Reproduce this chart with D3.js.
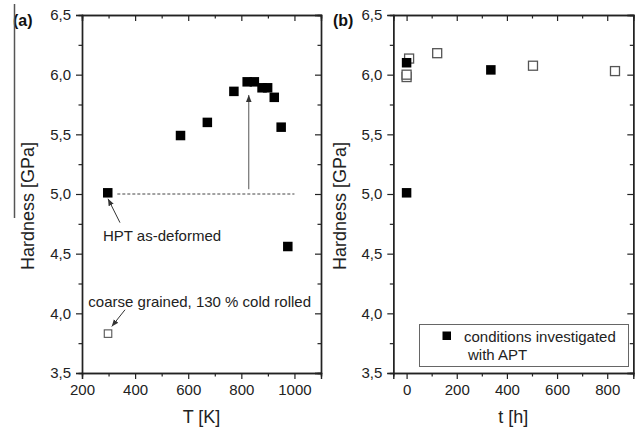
<!DOCTYPE html>
<html><head><meta charset="utf-8">
<script src="https://cdn.jsdelivr.net/npm/d3@7"></script>
<style>
body{margin:0;background:#fff;}
svg{display:block;font-family:"Liberation Sans",Arial,sans-serif;}
</style></head>
<body>
<svg id="chart" width="638" height="432"></svg>
<script>
// ---- data ----
const tempA = [297, 571, 672, 772, 822, 849, 878, 899, 924, 950, 975];
const hardA = [5.01, 5.49, 5.60, 5.86, 5.94, 5.94, 5.89, 5.89, 5.81, 5.56, 4.56];
const tempAOpen = [298];
const hardAOpen = [3.83];
const timeBFilled = [0, 0, 336];
const hardBFilled = [5.01, 6.10, 6.04];
const timeBOpen = [0, 0, 10, 122, 504, 831];
const hardBOpen = [5.98, 6.00, 6.135, 6.18, 6.075, 6.03];
const yTicks = [3.5, 4.0, 4.5, 5.0, 5.5, 6.0, 6.5];
const xTicksA = [200, 400, 600, 800, 1000];
const xTicksB = [0, 200, 400, 600, 800];

const svg = d3.select("#chart");
const fmt = d => d3.format(".1f")(d).replace(".", ",");
const axisCol = "#222";

const xA = d3.scaleLinear().domain([200, 1100]).range([82, 321]);
const yS = d3.scaleLinear().domain([3.5, 6.5]).range([373, 15]);
const xB = d3.scaleLinear().domain([-53, 904]).range([393.3, 633.3]);

const yMinor = d3.range(3.75, 6.5, 0.5);

function frame(x, xTicks, xMinor, label, panelLabel, plx, ylabX) {
  const [x0, x1] = x.range();
  const [y0, y1] = yS.range();
  const g = svg.append("g");
  // bottom axis
  const bottom = g.append("g").attr("transform", `translate(0,${y0})`)
    .call(d3.axisBottom(x).tickValues(xTicks).tickSize(6).tickPadding(5).tickFormat(d3.format("d")));
  g.append("g").attr("transform", `translate(0,${y0})`)
    .call(d3.axisBottom(x).tickValues(xMinor).tickSize(3.5).tickFormat(""));
  // top axis (inward)
  g.append("g").attr("transform", `translate(0,${y1})`)
    .call(d3.axisBottom(x).tickValues(xTicks).tickSize(6).tickFormat(""));
  g.append("g").attr("transform", `translate(0,${y1})`)
    .call(d3.axisBottom(x).tickValues(xMinor).tickSize(3.5).tickFormat(""));
  // left axis
  g.append("g").attr("transform", `translate(${x0},0)`)
    .call(d3.axisLeft(yS).tickValues(yTicks).tickSize(6).tickPadding(5).tickFormat(fmt));
  g.append("g").attr("transform", `translate(${x0},0)`)
    .call(d3.axisLeft(yS).tickValues(yMinor).tickSize(3.5).tickFormat(""));
  // right axis (inward)
  g.append("g").attr("transform", `translate(${x1},0)`)
    .call(d3.axisLeft(yS).tickValues(yTicks).tickSize(6).tickFormat(""));
  g.append("g").attr("transform", `translate(${x1},0)`)
    .call(d3.axisLeft(yS).tickValues(yMinor).tickSize(3.5).tickFormat(""));
  g.selectAll(".domain").attr("stroke", axisCol).attr("stroke-width", 1.4);
  g.selectAll(".tick line").attr("stroke", axisCol).attr("stroke-width", 1.2);
  g.selectAll(".tick text").attr("font-size", 15).attr("fill", "#222")
    .attr("font-family", "'Liberation Sans',Arial,sans-serif");
  // axis titles
  g.append("text").attr("x", (x0 + x1) / 2).attr("y", 423).attr("text-anchor", "middle")
    .attr("font-size", 18).attr("fill", "#222").text(label);
  g.append("text").attr("transform", `translate(${ylabX},206) rotate(-90)`)
    .attr("text-anchor", "middle").attr("font-size", 18).attr("fill", "#222").text("Hardness [GPa]");
  g.append("text").attr("x", plx).attr("y", 26).attr("font-size", 16).attr("font-weight", "bold")
    .attr("fill", "#111").text(panelLabel);
}

frame(xA, xTicksA, [300, 500, 700, 900, 1100], "T [K]", "(a)", 13, 34);
frame(xB, xTicksB, [100, 300, 500, 700], "t [h]", "(b)", 333, 346);

// artifact vertical line at far left
svg.append("line").attr("x1", 14.5).attr("x2", 14.5).attr("y1", 4).attr("y2", 218)
  .attr("stroke", "#555").attr("stroke-width", 1.5);

// defs arrowhead
svg.append("defs").append("marker").attr("id", "ah").attr("viewBox", "0 0 10 10")
  .attr("refX", 10).attr("refY", 5).attr("markerWidth", 7).attr("markerHeight", 7)
  .attr("markerUnits", "userSpaceOnUse").attr("orient", "auto")
  .append("path").attr("d", "M0,1 L10,5 L0,9 Z").attr("fill", "#333");

// panel a annotations
svg.append("line").attr("x1", xA(333)).attr("x2", xA(1000)).attr("y1", yS(5.0)).attr("y2", yS(5.0))
  .attr("stroke", "#444").attr("stroke-width", 1).attr("stroke-dasharray", "3,2");
svg.append("line").attr("x1", xA(828)).attr("x2", xA(828)).attr("y1", yS(5.04)).attr("y2", yS(5.83))
  .attr("stroke", "#555").attr("stroke-width", 1).attr("marker-end", "url(#ah)");
svg.append("line").attr("x1", xA(343)).attr("y1", yS(4.76)).attr("x2", xA(298)).attr("y2", yS(4.96))
  .attr("stroke", "#333").attr("stroke-width", 1).attr("marker-end", "url(#ah)");
svg.append("line").attr("x1", xA(362)).attr("y1", yS(4.03)).attr("x2", xA(312)).attr("y2", yS(3.89))
  .attr("stroke", "#333").attr("stroke-width", 1).attr("marker-end", "url(#ah)");
svg.append("text").attr("x", xA(279)).attr("y", yS(4.608)).attr("font-size", 15).attr("fill", "#222")
  .text("HPT as-deformed");
svg.append("text").attr("x", xA(224)).attr("y", yS(4.055)).attr("font-size", 15).attr("fill", "#222")
  .text("coarse grained, 130 % cold rolled");

// panel a markers
const sA = 9.5;
svg.append("g").selectAll("rect").data(tempA.map((t, i) => [t, hardA[i]])).join("rect")
  .attr("x", d => xA(d[0]) - sA / 2).attr("y", d => yS(d[1]) - sA / 2)
  .attr("width", sA).attr("height", sA).attr("fill", "#000");
const sAo = 7.5;
svg.append("g").selectAll("rect").data(tempAOpen.map((t, i) => [t, hardAOpen[i]])).join("rect")
  .attr("x", d => xA(d[0]) - sAo / 2).attr("y", d => yS(d[1]) - sAo / 2)
  .attr("width", sAo).attr("height", sAo).attr("fill", "#fff").attr("stroke", "#555").attr("stroke-width", 1.1);

// panel b markers
const sBo = 9;
svg.append("g").selectAll("rect").data(timeBOpen.map((t, i) => [t, hardBOpen[i]])).join("rect")
  .attr("x", d => xB(d[0]) - sBo / 2).attr("y", d => yS(d[1]) - sBo / 2)
  .attr("width", sBo).attr("height", sBo).attr("fill", "#fff").attr("stroke", "#555").attr("stroke-width", 1.3);
const sB = 9.5;
svg.append("g").selectAll("rect").data(timeBFilled.map((t, i) => [t, hardBFilled[i]])).join("rect")
  .attr("x", d => xB(d[0]) - sB / 2).attr("y", d => yS(d[1]) - sB / 2)
  .attr("width", sB).attr("height", sB).attr("fill", "#000");

// legend
const lg = svg.append("g");
lg.append("rect").attr("x", 419.5).attr("y", 324.5).attr("width", 209).attr("height", 42)
  .attr("fill", "#fff").attr("stroke", "#666").attr("stroke-width", 1);
lg.append("rect").attr("x", 442.5).attr("y", 331.5).attr("width", 8.5).attr("height", 8.5).attr("fill", "#000");
lg.append("text").attr("x", 464).attr("y", 341.5).attr("font-size", 15).attr("fill", "#222").text("conditions investigated");
lg.append("text").attr("x", 468).attr("y", 359.5).attr("font-size", 15).attr("fill", "#222").text("with APT");
</script>
</body></html>
